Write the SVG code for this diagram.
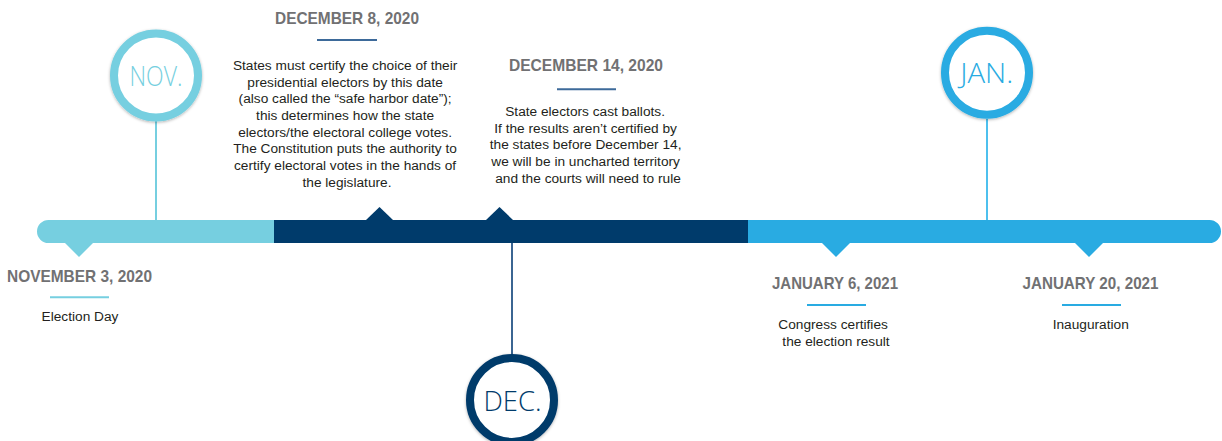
<svg xmlns="http://www.w3.org/2000/svg" width="1222" height="441" viewBox="0 0 1222 441">
<style>
.head{font-family:"Liberation Sans Narrow","Liberation Sans",Arial,sans-serif;font-weight:bold;font-size:17px;fill:#717173;text-anchor:middle}
.body{font-family:"Liberation Sans",Arial,sans-serif;font-size:13.7px;fill:#231f20;text-anchor:middle}
.month{font-family:"Open Sans","Lato",sans-serif;font-weight:300;font-size:28px;text-anchor:middle}
.ring{fill:#fff;stroke-width:8}
</style>
<defs>
<filter id="sh" x="-30%" y="-30%" width="160%" height="160%">
<feDropShadow dx="0" dy="1" stdDeviation="1.5" flood-color="#000" flood-opacity="0.3"/>
</filter>
</defs>
<g id="timeline">
<path d="M48.5,220 H274 V243 H48.5 A11.5,11.5 0 0 1 48.5,220 Z" fill="#76cfe0"/>
<rect x="274" y="220" width="474" height="23" fill="#003b6b"/>
<path d="M748,220 H1209.5 A11.5,11.5 0 0 1 1209.5,243 H748 Z" fill="#29abe2"/>
<polygon points="65,243 93,243 79,257" fill="#76cfe0"/>
<polygon points="366,220 393,220 379.5,207" fill="#003b6b"/>
<polygon points="486,220 513,220 499.5,207" fill="#003b6b"/>
<polygon points="822,243 850,243 836,257" fill="#29abe2"/>
<polygon points="1075,243 1103,243 1089,257" fill="#29abe2"/>
</g>
<g id="connectors">
<line x1="156" y1="121" x2="156" y2="220" stroke="#76cfe0" stroke-width="2"/>
<line x1="512" y1="243" x2="512" y2="354" stroke="#3b6592" stroke-width="2"/>
<line x1="987" y1="119" x2="987" y2="220" stroke="#4dc0ee" stroke-width="2"/>
</g>
<g id="nov">
<circle cx="156" cy="75.5" r="42" class="ring" stroke="#76cfe0" filter="url(#sh)"/>
<text x="156" y="86" class="month" fill="#76cfe0" textLength="53" lengthAdjust="spacingAndGlyphs">NOV.</text>
</g>
<g id="dec">
<circle cx="512" cy="400" r="42" class="ring" stroke="#003b6b" filter="url(#sh)"/>
<text x="512.5" y="410.5" class="month" fill="#003b6b" textLength="58" lengthAdjust="spacingAndGlyphs">DEC.</text>
</g>
<g id="jan">
<circle cx="987" cy="72.7" r="42" class="ring" stroke="#29abe2" filter="url(#sh)"/>
<text x="986.7" y="83" class="month" fill="#29abe2" textLength="53" lengthAdjust="spacingAndGlyphs">JAN.</text>
</g>
<g id="nov3">
<text x="79.5" y="282" class="head" textLength="145" lengthAdjust="spacingAndGlyphs">NOVEMBER 3, 2020</text>
<line x1="50" y1="297.3" x2="109" y2="297.3" stroke="#76cfe0" stroke-width="2"/>
<text x="80" y="320.5" class="body">Election Day</text>
</g>
<g id="dec8">
<text x="347" y="24" class="head" textLength="144" lengthAdjust="spacingAndGlyphs">DECEMBER 8, 2020</text>
<line x1="317" y1="40" x2="377" y2="40" stroke="#3d6a9a" stroke-width="2"/>
<text class="body">
<tspan x="347" y="70">States must certify the choice of their</tspan>
<tspan x="347" y="86.5">presidential electors by this date</tspan>
<tspan x="347" y="103">(also called the “safe harbor date”);</tspan>
<tspan x="347" y="120">this determines how the state</tspan>
<tspan x="347" y="136.5">electors/the electoral college votes.</tspan>
<tspan x="347" y="153">The Constitution puts the authority to</tspan>
<tspan x="347" y="170">certify electoral votes in the hands of</tspan>
<tspan x="347" y="186.5">the legislature.</tspan>
</text>
</g>
<g id="dec14">
<text x="586" y="71" class="head" textLength="154" lengthAdjust="spacingAndGlyphs">DECEMBER 14, 2020</text>
<line x1="557" y1="89.3" x2="616" y2="89.3" stroke="#3d6a9a" stroke-width="2"/>
<text class="body">
<tspan x="587" y="116">State electors cast ballots.</tspan>
<tspan x="587.5" y="132.5">If the results aren’t certified by</tspan>
<tspan x="587.5" y="149">the states before December 14,</tspan>
<tspan x="587.5" y="166">we will be in uncharted territory</tspan>
<tspan x="588" y="182.5">and the courts will need to rule</tspan>
</text>
</g>
<g id="jan6">
<text x="835" y="289" class="head" textLength="126" lengthAdjust="spacingAndGlyphs">JANUARY 6, 2021</text>
<line x1="807" y1="305" x2="866" y2="305" stroke="#29abe2" stroke-width="2"/>
<text class="body">
<tspan x="835" y="329">Congress certifies</tspan>
<tspan x="836" y="345.5">the election result</tspan>
</text>
</g>
<g id="jan20">
<text x="1090.5" y="289" class="head" textLength="136" lengthAdjust="spacingAndGlyphs">JANUARY 20, 2021</text>
<line x1="1062" y1="305" x2="1121" y2="305" stroke="#29abe2" stroke-width="2"/>
<text x="1090.7" y="329" class="body">Inauguration</text>
</g>
</svg>
